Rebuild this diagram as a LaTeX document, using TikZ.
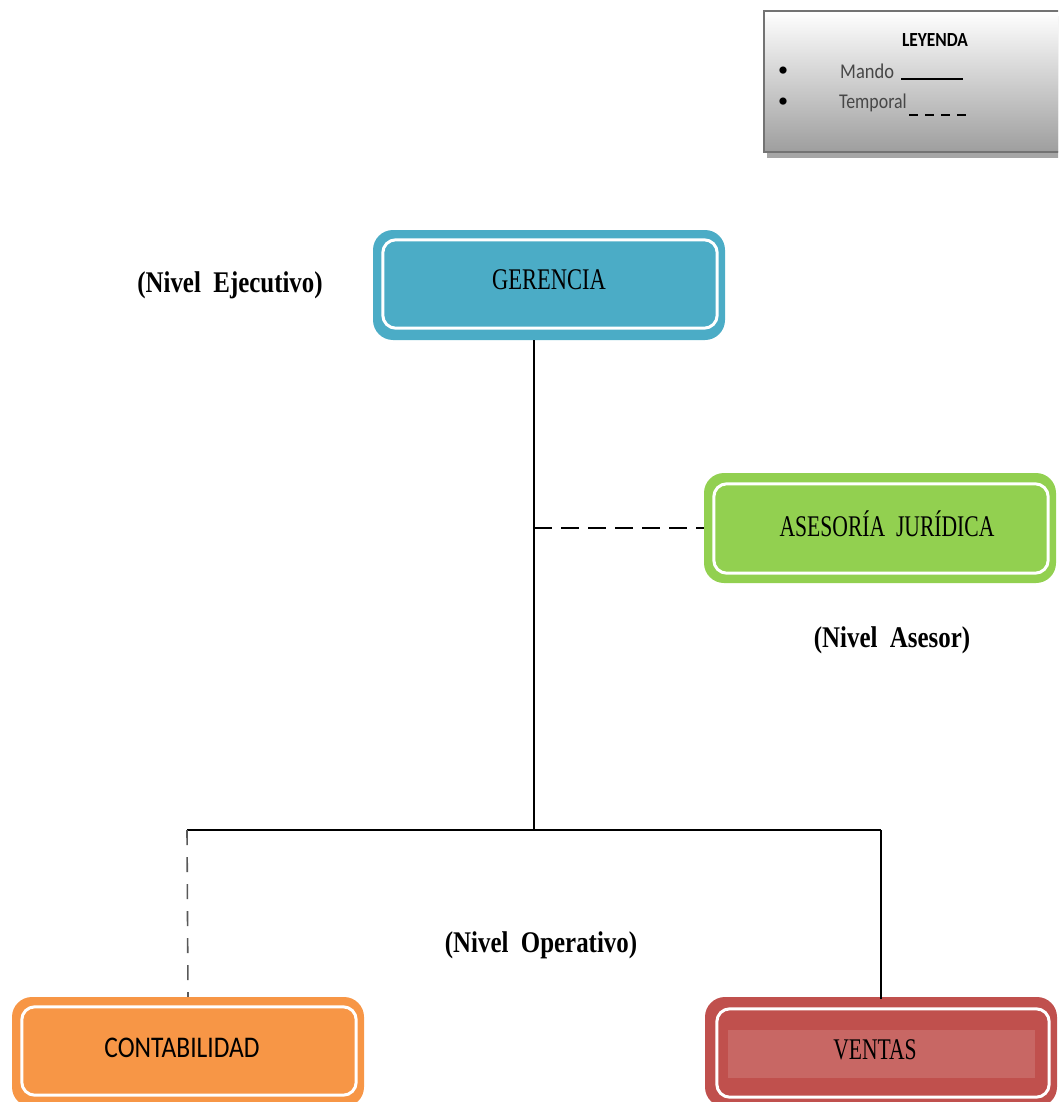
\documentclass[tikz,border=0pt]{standalone}
\usepackage{fontspec}
\usepackage{graphicx}
\setmainfont{Liberation Serif}
\newfontfamily\calfont{Carlito}
\definecolor{gerblue}{HTML}{4BACC6}
\definecolor{asegreen}{HTML}{92D050}
\definecolor{conorange}{HTML}{F79646}
\definecolor{venred}{HTML}{C0504D}
\definecolor{venredin}{HTML}{C86764}
\newcommand{\cond}[2][0.72]{\scalebox{#1}[1]{#2}}
\tikzset{
  orgbox/.style={rounded corners=20, minimum width=352, minimum height=110, inner sep=0pt, fill=#1, draw=none},
  innerline/.style={draw=white, line width=3, rounded corners=13},
  conn/.style={line width=1.6, black},
  tempconn/.style={line width=1.6, dash pattern=on 18pt off 9pt},
  lvl/.style={font=\fontsize{30}{32}\selectfont\bfseries, inner sep=0pt},
  boxtext/.style={font=\fontsize{30}{32}\selectfont, inner sep=0pt},
  legtext/.style={font=\calfont\fontsize{21}{22}\selectfont, text=black!72, inner sep=0, anchor=west},
  bullet/.style={font=\fontsize{30}{30}\selectfont, inner sep=0},
}
\begin{document}
\begin{tikzpicture}[x=1pt,y=-1pt]
\useasboundingbox (0,0) rectangle (1058,1102);
\clip (0,0) rectangle (1058,1102);
% legend
\fill[gray!70] (767,16) rectangle (1062,158);
\node[draw=black!55, line width=2, top color=white, bottom color=black!38, minimum width=300, minimum height=141, inner sep=0, anchor=north west] (leg) at (763,10) {};
\node[font=\calfont\bfseries\fontsize{20}{22}\selectfont, inner sep=0] (legt) at (935,40) {\cond[0.87]{LEYENDA}};
\node[bullet] (b1) at (783,74) {•};
\node[bullet] (b2) at (783,105) {•};
\node[legtext] (mando) at (840,71) {\cond[0.88]{Mando}};
\node[legtext] (temp) at (839,103) {\cond[0.85]{Temporal}};
\coordinate (m1) at (901,79); \coordinate (m2) at (963,79);
\coordinate (t1) at (909,115); \coordinate (t2) at (968,115);
\draw[line width=2] (m1) -- (m2);
\draw[line width=2, dash pattern=on 9pt off 7pt] (t1) -- (t2);
% boxes
\node[orgbox=gerblue] (g) at (549,285) {};
\draw[innerline] ([shift={(10,10)}]g.north west) rectangle ([shift={(-8,-12)}]g.south east);
\node[boxtext] (gt) at (549,280) {\cond[0.75]{GERENCIA}};

\node[orgbox=asegreen] (a) at (880,528) {};
\draw[innerline] ([shift={(10,11)}]a.north west) rectangle ([shift={(-8,-10)}]a.south east);
\node[boxtext] (at) at (887,524) {\cond{ASESORÍA\ \ JURÍDICA}};

\node[orgbox=conorange] (c) at (188,1052) {};
\draw[innerline] ([shift={(10,10)}]c.north west) rectangle ([shift={(-8,-12)}]c.south east);
\node[boxtext, font=\calfont\fontsize{30}{32}\selectfont] (ct) at (182,1048) {\cond[0.85]{CONTABILIDAD}};

\node[orgbox=venred] (v) at (881,1052) {};
\fill[venredin] (728,1030) rectangle (1035,1078);
\draw[innerline] ([shift={(12,12)}]v.north west) rectangle ([shift={(-8,-10)}]v.south east);
\node[boxtext] (vt) at (875,1050) {\cond{VENTAS}};

% level labels
\node[lvl] (le) at (230,285) {\cond[0.83]{(Nivel\ \ Ejecutivo)}};
\node[lvl] (la) at (892,640) {\cond[0.83]{(Nivel\ \ Asesor)}};
\node[lvl] (lo) at (541,945) {\cond[0.83]{(Nivel\ \ Operativo)}};

% connectors
\coordinate (gs) at ([xshift=-15]g.south);
\coordinate (j) at (534,830);
\coordinate (jl) at (187,830);
\coordinate (jr) at (881,830);
\draw[conn] (gs) -- (j);
\draw[tempconn] (gs |- a.west) -- (a.west);
\draw[conn] (jl) -- (jr);
\draw[tempconn, black!65, dash pattern=on 15pt off 12pt] (jl) -- (c.north);
\draw[conn] (jr) -- ([yshift=-2]v.north);
\end{tikzpicture}
\end{document}
